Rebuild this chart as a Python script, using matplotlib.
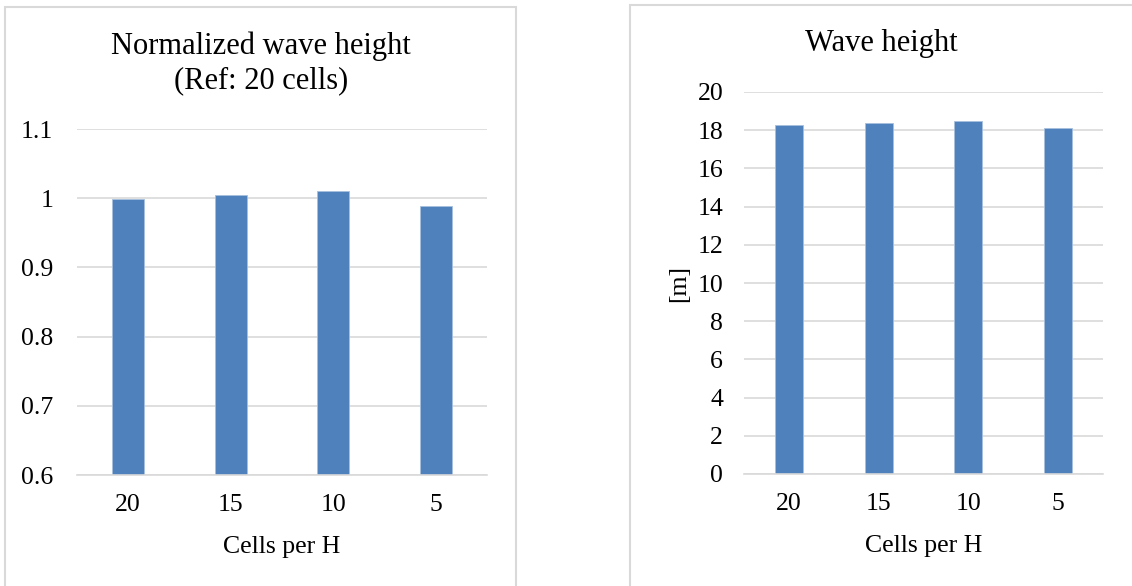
import matplotlib.pyplot as plt
from matplotlib.patches import Rectangle

plt.rcParams['font.family'] = ['Liberation Serif', 'DejaVu Serif']

cells = ['20', '15', '10', '5']
norm_height = [0.999, 1.005, 1.011, 0.989]
wave_height = [18.28, 18.40, 18.49, 18.09]

bar_color = '#4F81BD'
grid_color = '#D9D9D9'

W, H = 1132, 586
fig = plt.figure(figsize=(W / 100, H / 100), dpi=100)


def box(x0, y0, x1, y1):
    # pixel box (top-left origin) -> figure fraction
    return [x0 / W, 1 - y1 / H, (x1 - x0) / W, (y1 - y0) / H]


# panel borders like the Excel chart frames
fig.patches.append(Rectangle((5 / W, -0.1), (516 - 5) / W, 1.1 - 7 / H,
                             transform=fig.transFigure, fill=False,
                             ec=grid_color, lw=1.5))
fig.patches.append(Rectangle((630 / W, -0.1), 1.0, 1.1 - 5 / H,
                             transform=fig.transFigure, fill=False,
                             ec=grid_color, lw=1.5))


def style(ax, ticks):
    ax.set_yticks(ticks)
    ax.grid(axis='y', color=grid_color, lw=1.2)
    ax.set_axisbelow(True)
    for s in ['top', 'right', 'left']:
        ax.spines[s].set_visible(False)
    ax.spines['bottom'].set_color(grid_color)
    ax.spines['bottom'].set_linewidth(1.2)
    ax.tick_params(axis='both', length=0, labelsize=18.5)
    ax.tick_params(axis='x', pad=14)
    ax.set_xlim(-0.5, 3.5)


# left chart
ax1 = fig.add_axes(box(77, 129, 487, 475))
ax1.bar(cells, [v - 0.6 for v in norm_height], bottom=0.6, width=0.31,
        color=bar_color, edgecolor='#A7BFDE', lw=0.6)
ax1.set_ylim(0.6, 1.1)
style(ax1, [0.6, 0.7, 0.8, 0.9, 1.0, 1.1])
ax1.set_yticklabels(['0.6', '0.7', '0.8', '0.9', '1', '1.1'])
ax1.tick_params(axis='y', pad=17)
ax1.set_xlabel('Cells per H', fontsize=18.5, labelpad=14)
fig.text(261 / W, 1 - 46 / H, 'Normalized wave height', fontsize=22,
         ha='center', va='center')
fig.text(261 / W, 1 - 81 / H, '(Ref: 20 cells)', fontsize=22,
         ha='center', va='center')

# right chart
ax2 = fig.add_axes(box(744, 92, 1103, 474))
ax2.bar(cells, wave_height, width=0.31, color=bar_color,
        edgecolor='#A7BFDE', lw=0.6)
ax2.set_ylim(0, 20)
style(ax2, list(range(0, 21, 2)))
ax2.tick_params(axis='y', pad=15)
ax2.set_xlabel('Cells per H', fontsize=18.5, labelpad=14)
ax2.set_ylabel('[m]', fontsize=18.5, labelpad=5)
fig.text(881 / W, 1 - 43 / H, 'Wave height', fontsize=22,
         ha='center', va='center')

fig.savefig('out.png', dpi=100)
